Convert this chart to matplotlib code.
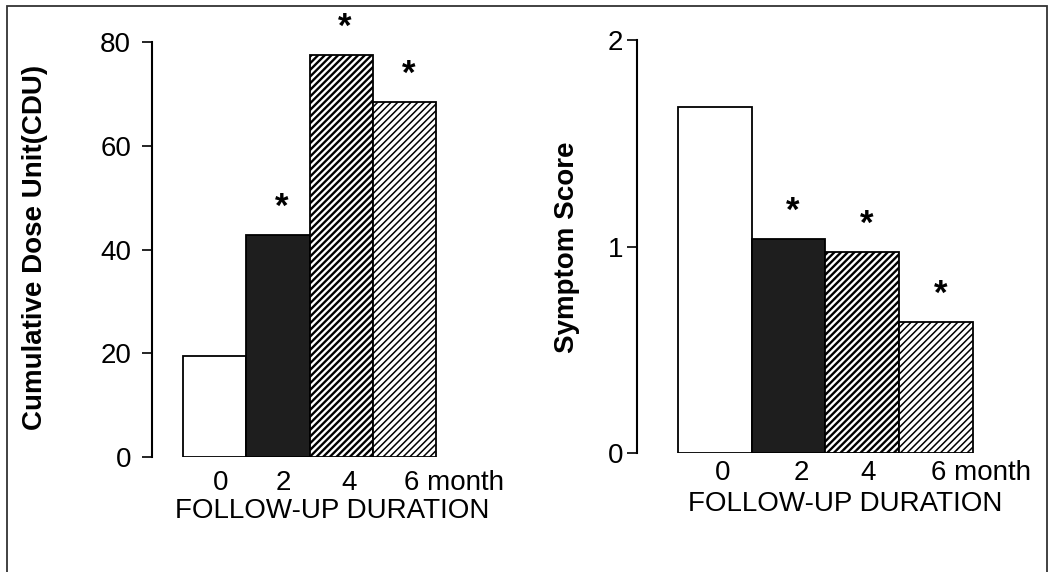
import matplotlib
matplotlib.use('Agg')
import matplotlib.pyplot as plt
from matplotlib.patches import Rectangle

plt.rcParams['font.family'] = ['Liberation Sans', 'DejaVu Sans']
plt.rcParams['hatch.linewidth'] = 1.2

# Data
months = ['0', '2', '4', '6 month']
cdu = [19.5, 42.8, 77.5, 68.4]
symptom = [1.675, 1.036, 0.973, 0.634]
significant = [False, True, True, True]

# Bar styles: open, dark fill, dense hatch, light hatch
face_colors = ['white', '#1e1e1e', 'white', 'white']
hatches = [None, None, '/////', '/////']
hatch_widths = [1.0, 1.0, 1.7, 1.1]

fig = plt.figure(figsize=(10.5, 5.72), dpi=100)

# outer frame of the scanned figure
fig.patches.append(Rectangle((0.0067, -0.02), 0.990, 1.009, transform=fig.transFigure,
                             fill=False, edgecolor='#333333', linewidth=1.3))


def draw_panel(ax, values, ylim, yticks, ylabel, xlim, tick_shift, label_pad, ytick_pad):
	x = list(range(len(values)))
	bars = ax.bar(x, values, width=1.0, color=face_colors, edgecolor='black', linewidth=1.3)
	for bar, h, hw in zip(bars, hatches, hatch_widths):
		if h:
			bar.set_hatch(h)
			if hasattr(bar, 'set_hatch_linewidth'):
				bar.set_hatch_linewidth(hw)
	# significance stars
	for xi, v, sig in zip(x, values, significant):
		if sig:
			ax.annotate('*', (xi + 0.06, v), xytext=(0, 20), textcoords='offset points',
			            ha='center', va='center', fontsize=25, fontweight='bold', annotation_clip=False)
	ax.set_xlim(*xlim)
	ax.set_ylim(*ylim)
	ax.set_yticks(yticks)
	ax.tick_params(axis='y', direction='out', length=7, width=1.2, pad=ytick_pad, labelsize=20)
	ax.set_xticks([xi + s for xi, s in zip(x, tick_shift)])
	ax.set_xticklabels(months)
	ax.get_xticklabels()[-1].set_ha('left')
	ax.tick_params(axis='x', length=0, pad=label_pad, labelsize=20)
	for side in ['top', 'right', 'bottom']:
		ax.spines[side].set_visible(False)
	ax.spines['left'].set_linewidth(1.5)
	ax.set_ylabel(ylabel, fontsize=20, fontweight='bold')
	ax.set_xlabel('FOLLOW-UP DURATION', fontsize=20)
	ax.patch.set_visible(False)


ax1 = fig.add_axes([0.1448, 0.2010, 0.2838, 0.7255])
draw_panel(ax1, cdu, (0, 80), [0, 20, 40, 60, 80], 'Cumulative Dose Unit(CDU)',
           (-0.99, 3.72), [0.09, 0.09, 0.12, -0.01], 9, 8)
ax1.xaxis.set_label_coords(0.604, -0.099)
ax1.yaxis.set_label_coords(-0.349, 0.506)

ax2 = fig.add_axes([0.6067, 0.208, 0.3295, 0.722])
draw_panel(ax2, symptom, (0, 2), [0, 1, 2], 'Symptom Score',
           (-1.056, 3.64), [0.1, 0.18, 0.08, -0.06], 5, 3)
ax2.xaxis.set_label_coords(0.601, -0.092)
ax2.yaxis.set_label_coords(-0.165, 0.499)

fig.savefig('out.png', dpi=100)
